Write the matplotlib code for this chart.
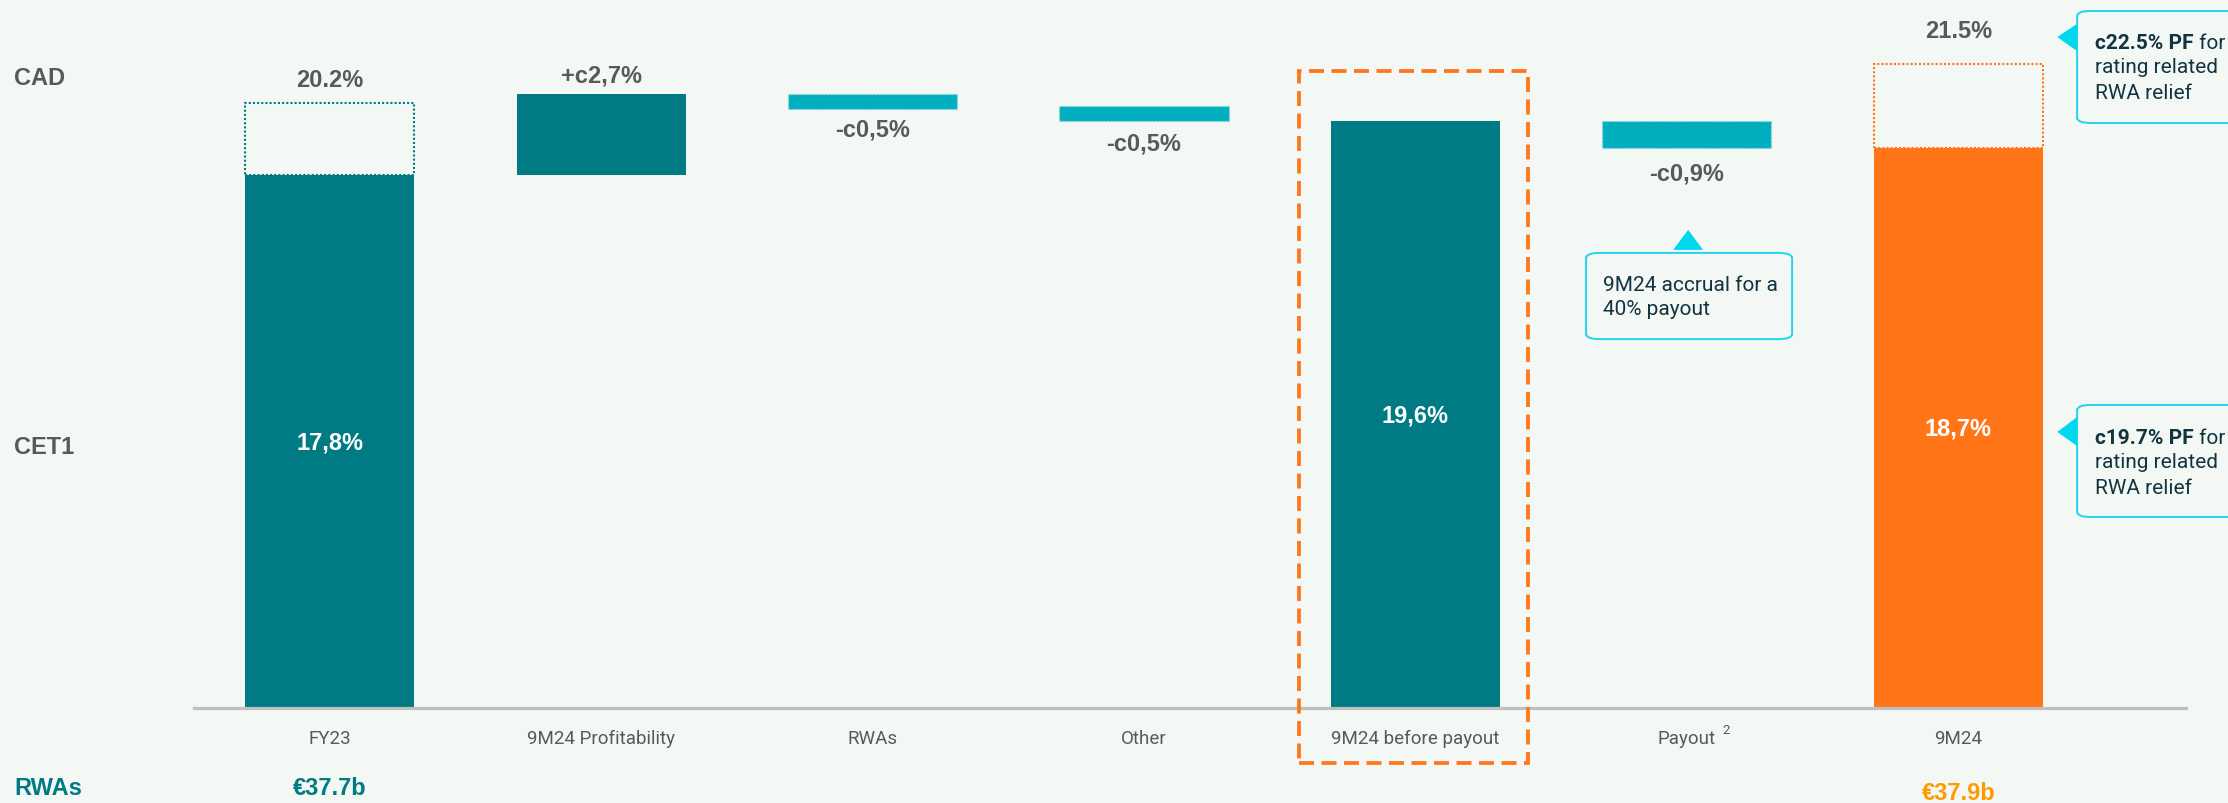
import matplotlib.pyplot as plt
from matplotlib.patches import Rectangle, FancyBboxPatch, Polygon

# CET1 walk FY23 -> 9M24 (%)
categories = ['FY23', '9M24 Profitability', 'RWAs', 'Other', '9M24 before payout', 'Payout', '9M24']
cet1_fy23 = 17.8
cet1_before_payout = 19.6
cet1_9m24 = 18.7
profitability = 2.7
rwa_move = -0.5
other_move = -0.5
payout = -0.9
cad_fy23 = 20.2
cad_9m24 = 21.5
rwas = ['€37.7b', '€37.9b']

TEAL = '#007B83'
LIGHT_TEAL = '#00AEBE'
ORANGE = '#FF7518'
BG = '#F4F8F5'
GREY = '#595959'
CYAN = '#22D3EE'
NAVY = '#123440'

BOLD = ['Liberation Sans', 'DejaVu Sans']
BODY = ['Roboto', 'DejaVu Sans']

fig = plt.figure(figsize=(22.28, 8.04), dpi=100, facecolor=BG)
ax = fig.add_axes([0, 0, 1, 1], facecolor=BG)
ax.set_xlim(-1.2148, 6.994)
ax.set_ylim(-3.173, 23.68)

w = 0.623
x = list(range(len(categories)))

# totals
ax.bar(x[0], cet1_fy23, width=w, color=TEAL)
ax.bar(x[4], cet1_before_payout, width=w, color=TEAL)
ax.bar(x[6], cet1_9m24, width=w, color=ORANGE)

# CAD outline on top of CET1
ax.bar(x[0], cad_fy23 - cet1_fy23, bottom=cet1_fy23, width=w, facecolor='none',
       edgecolor=TEAL, linewidth=1.5, linestyle=(0, (1, 1)))
ax.bar(x[6], cad_9m24 - cet1_9m24, bottom=cet1_9m24, width=w, facecolor='none',
       edgecolor=ORANGE, linewidth=1.5, linestyle=(0, (1, 1)))

# floating steps
prof_top = cet1_fy23 + profitability
ax.bar(x[1], profitability, bottom=cet1_fy23, width=w, color=TEAL)
rwa_bottom = prof_top + rwa_move
ax.bar(x[2], -rwa_move, bottom=rwa_bottom, width=w, color=LIGHT_TEAL,
       edgecolor='#9ADFE6', linewidth=1, linestyle=':')
ax.bar(x[3], -other_move, bottom=cet1_before_payout, width=w, color=LIGHT_TEAL,
       edgecolor='#9ADFE6', linewidth=1, linestyle=':')
payout_bottom = cet1_before_payout + payout
ax.bar(x[5], -payout, bottom=payout_bottom, width=w, color=LIGHT_TEAL,
       edgecolor='#9ADFE6', linewidth=1, linestyle=':')

# value labels
lbl = dict(ha='center', va='center', fontsize=17, fontweight='bold', family=BOLD,
           textcoords='offset points')
ax.annotate(f'{cad_fy23:.1f}%', (x[0], cad_fy23), xytext=(0, 17), color=GREY, **lbl)
ax.annotate(f'{cad_9m24:.1f}%', (x[6], cad_9m24), xytext=(0, 24), color=GREY, **lbl)
ax.annotate(f'+c{profitability:.1f}%'.replace('.', ','), (x[1], prof_top),
            xytext=(0, 14), color=GREY, **lbl)
ax.annotate(f'-c{-rwa_move:.1f}%'.replace('.', ','), (x[2], rwa_bottom),
            xytext=(0, -14), color=GREY, **lbl)
ax.annotate(f'-c{-other_move:.1f}%'.replace('.', ','), (x[3], cet1_before_payout),
            xytext=(0, -16), color=GREY, **lbl)
ax.annotate(f'-c{-payout:.1f}%'.replace('.', ','), (x[5], payout_bottom),
            xytext=(0, -18), color=GREY, **lbl)
for xi, v in [(x[0], cet1_fy23), (x[4], cet1_before_payout), (x[6], cet1_9m24)]:
    ax.annotate(f'{v:.1f}%'.replace('.', ','), (xi, v / 2), xytext=(0, 0),
                color='white', **lbl)

# row headers
ax.text(-1.163, 21.07, 'CAD', fontsize=17, fontweight='bold', family=BOLD,
        color=GREY, va='center')
ax.text(-1.163, 8.72, 'CET1', fontsize=17, fontweight='bold', family=BOLD,
        color=GREY, va='center')
ax.text(-1.163, -2.67, 'RWAs', fontsize=17, fontweight='bold', family=BOLD,
        color=TEAL, va='center')
ax.text(x[0], -2.67, rwas[0], fontsize=17, fontweight='bold', family=BOLD,
        color=TEAL, ha='center', va='center')
ax.text(x[6], -2.81, rwas[1], fontsize=17, fontweight='bold', family=BOLD,
        color='#FF9B00', ha='center', va='center')

# category labels
for xi, c in zip(x, categories):
    ax.text(xi, -1.0, c, fontsize=13.5, family=BODY, color=GREY,
            ha='center', va='center')
    if c == 'Payout':
        # footnote marker
        ax.annotate('2', (xi, -1.0), xytext=(26, 6), textcoords='offset points',
                    fontsize=9.5, family=BODY, color=GREY, ha='left', va='center')

# baseline
for s in ['top', 'right', 'left']:
    ax.spines[s].set_visible(False)
ax.spines['bottom'].set_position(('data', 0))
ax.spines['bottom'].set_bounds(-0.5, 6.84)
ax.spines['bottom'].set_color('#BFBFBF')
ax.spines['bottom'].set_linewidth(2.3)
ax.set_xticks([])
ax.set_yticks([])

# highlight around the pre-payout bar
ax.add_patch(Rectangle((3.572, -1.85), 4.415 - 3.572, 21.26 + 1.85, fill=False,
                       edgecolor=ORANGE, linewidth=2.7, linestyle=(0, (4, 2)),
                       zorder=3))


def callout(x0, x1, y0, y1, tri):
    ax.add_patch(FancyBboxPatch((x0, y0), x1 - x0, y1 - y0,
                                boxstyle='round,pad=0,rounding_size=0.05',
                                mutation_aspect=3.5, facecolor=BG,
                                edgecolor=CYAN, linewidth=1.4, zorder=4))
    ax.add_patch(Polygon(tri, closed=True, facecolor='#00D8F0',
                         edgecolor='none', zorder=5))


# payout note
callout(4.629, 5.388, 12.32, 15.20, [(4.95, 15.30), (5.06, 15.30), (5.005, 15.97)])
note = dict(fontsize=15, family=BODY, color=NAVY, va='center', ha='left', zorder=6)
ax.text(4.69, 14.16, '9M24 accrual for a', **note)
ax.text(4.69, 13.33, '40% payout', **note)

# pro-forma notes on the right
for (yb, yt, ty, tb0, tb1, lines, head) in [
        (19.54, 23.28, 22.41, 21.94, 22.85, (22.24, 21.41, 20.57), 'c22.5% PF'),
        (6.38, 10.12, 9.22, 8.75, 9.72, (9.05, 8.22, 7.38), 'c19.7% PF')]:
    callout(6.438, 7.3, yb, yt, [(6.438, tb0), (6.438, tb1), (6.365, ty)])
    h = ax.text(6.505, lines[0], head, fontsize=15, family=BODY,
                fontweight='bold', color=NAVY, va='center', ha='left', zorder=6)
    ax.annotate(' for', xy=(1, 0.5), xycoords=h, fontsize=15, family=BODY,
                color=NAVY, va='center', ha='left', zorder=6)
    ax.text(6.505, lines[1], 'rating related', **note)
    ax.text(6.505, lines[2], 'RWA relief', **note)

fig.savefig('out.png', dpi=100, facecolor=BG)
